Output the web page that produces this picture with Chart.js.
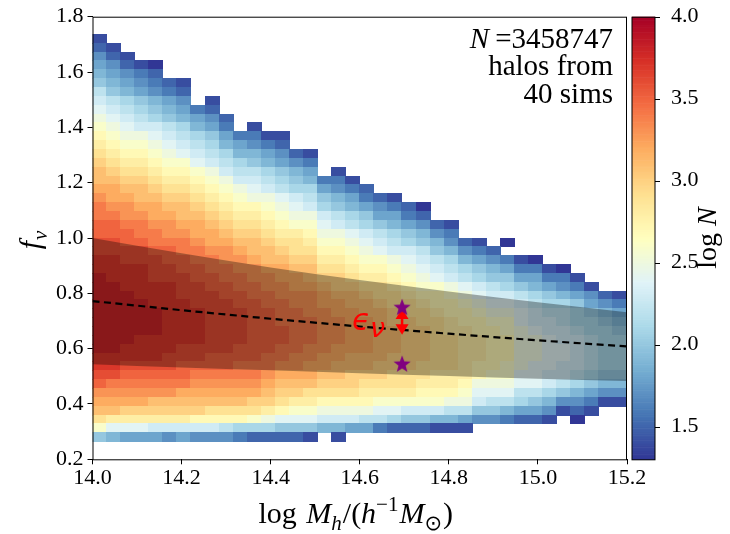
<!DOCTYPE html>
<html lang="en">
<head>
<meta charset="UTF-8">
<title>f_nu vs halo mass</title>
<script src="https://cdn.jsdelivr.net/npm/chart.js"></script>
<style>
  html, body { margin: 0; padding: 0; background: #fff; }
  #wrap { width: 730px; height: 534px; }
</style>
</head>
<body>
<div id="wrap"><canvas id="chart"></canvas></div>
<script>
// log N of halos per (mass, f_nu) cell.
// one string per f_nu row (top row first), one char per mass column,
// '.' = empty, 'a' = 1.3, 'b' = 1.4, ... 'z' = 3.8
const countRows = [
  'b',
  'cb',
  'ecb',
  'fecba',
  'gfedc',
  'hgfedcb',
  'jhgfedc',
  'kjihgfe.b',
  'lkjihgfdc',
  'mlkjihgfec',
  'nmlkkjigfd.b',
  'onmmlkjihfddbb',
  'ponnmlkjigfedc',
  'qpoonmlkjiggfecb',
  'rqpponnlkjihgfed',
  'srqqpoonmkjjihgf.b',
  'ssrrqpponmkkjihgddb',
  'ttssrqqponmlkjiifedc',
  'uttssrrqponmmlkjhgfdcb',
  'vuuttssrqpoonmlkihgfedca',
  'vvuuttssrqpponmmkjihffdc',
  'wwvvuuttsrqqponnlkjihgfecb',
  'wwwvvuuttsrrqppommlkjihged',
  'xxwwvvvuttssrqqpnnmlkjihgecb.a',
  'xxxxwwvvuutssrqqoonmlkkjhgedc.',
  'yyxxxwwvvuutssrrpponnmlkjigfedba',
  'yyyyxxwwvvuuttssqqpoonmlkjihgfddba',
  'zyyyxxxwwvvuuttsrrqpponmlkjihhffddb',
  'zzyyyyxxwwvvuuttsrrqqponnmlkjihgfedb',
  'zzzyyyxxxwwvvuuutssrqqpoonmlkkjihgfecb',
  'zzzzyyyxxxwwvvuuttssrqqpoonmllkjiihfed',
  'zzzzzyyyxxxwwvvuuttssrqqpoonmmlkjjihgf',
  'zzzzzyyyxxxwwvvvuuttsrrqqpoonnlkkjiihg',
  'zzzzzyyyxxxwwwvvuuttssrrqppoonmlkkjiih',
  'zzzyyyyyxxxwwwvvuuttssrrqqppoommlkkjii',
  'zzyyyyxxxxwwwvvuutttssrrqqppoommllkjii',
  'yyyyyxxxwwwwvvuuttsssrrrqqppoommllkjii',
  'yyxxxxwwwwvvvuuttsssrrrqqqpoonmllkkjii',
  'xxwwwwwvvvvvutttssrrrqqqppponnllkkjihh',
  'wvvvvvvuuuuutsssrrrqqqqpppommmllkjihgg',
  'uuuuuuttttttsrrqqqqppppooonllljjihgfee',
  'ttttsssssssrrqppoooonnnnnmmkjjihgeedbb',
  'ssrrrrrrqqqqponnmmmmllkkkjjhhgffebcb',
  'qppppppoooonmlllkkkjjihhggfeedccb.a',
  'nlllkkkkkjiiihhhggffdcccbbb',
  'hgfffefeeedccccb.b'
];
const levels = 'abcdefghijklmnopqrstuvwxyzAB';
const nMassBins = 38;
const massEdge0 = 14.0, massStep = 1.2 / 38;
const fvEdge0 = 0.264, fvStep = 0.032;

// mean f_nu and the +-1 sigma band
const bandMass  = [14.0, 14.2, 14.4, 14.6, 14.8, 15.0, 15.2];
const bandUpper = [1.0, 0.945, 0.893, 0.848, 0.807, 0.768, 0.732];
const bandLower = [0.544, 0.532, 0.522, 0.511, 0.501, 0.491, 0.483];
const meanFv    = [0.772, 0.739, 0.708, 0.680, 0.654, 0.630, 0.608];

const starMass = [14.695, 14.695];
const starFv = [0.75, 0.545];
const arrowMass = 14.695;
const arrowFv = [0.65, 0.745];

const xTicks = [14.0, 14.2, 14.4, 14.6, 14.8, 15.0, 15.2];
const yTicks = [0.2, 0.4, 0.6, 0.8, 1.0, 1.2, 1.4, 1.6, 1.8];
const cbTicks = [1.5, 2.0, 2.5, 3.0, 3.5, 4.0];
const cbMin = 1.3, cbMax = 4.0;

const serif = "'Liberation Serif', 'Times New Roman', serif";
const rdylbu = ['#313695', '#4575b4', '#74add1', '#abd9e9', '#e0f3f8', '#ffffbf',
                '#fee090', '#fdae61', '#f46d43', '#d73027', '#a50026'];

function hexRgb(h) {
  return [1, 3, 5].map(i => parseInt(h.slice(i, i + 2), 16));
}
function cmap(v) {
  let t = (v - cbMin) / (cbMax - cbMin);
  t = Math.max(0, Math.min(1, t)) * 10;
  const i = Math.min(9, Math.floor(t)), f = t - i;
  const a = hexRgb(rdylbu[i]), b = hexRgb(rdylbu[i + 1]);
  const c = a.map((x, k) => Math.round(x + (b[k] - x) * f));
  return `rgb(${c[0]},${c[1]},${c[2]})`;
}

function starImage(r, color) {
  const c = document.createElement('canvas');
  c.width = c.height = 2 * r + 2;
  const g = c.getContext('2d');
  g.fillStyle = color;
  g.beginPath();
  for (let i = 0; i < 10; i++) {
    const rad = i % 2 ? r * 0.42 : r;
    const a = -Math.PI / 2 + i * Math.PI / 5;
    g.lineTo(r + 1 + rad * Math.cos(a), r + 1.6 + rad * Math.sin(a));
  }
  g.closePath();
  g.fill();
  return c;
}

// draws pieces of math text (italic / sub / sup) along a baseline
function mathText(ctx, parts, x, y, size, align) {
  const fontOf = p => (p.it ? 'italic ' : '') + ((p.sub || p.sup) ? Math.round(size * 0.7) : size) + 'px ' + (p.fam || serif);
  let w = 0;
  parts.forEach(p => { ctx.font = fontOf(p); w += ctx.measureText(p.t).width + (p.gap || 0); });
  let cx = align === 'center' ? x - w / 2 : align === 'right' ? x - w : x;
  parts.forEach(p => {
    ctx.font = fontOf(p);
    const dy = p.sub ? size * 0.22 : p.sup ? -size * 0.4 : 0;
    ctx.fillText(p.t, cx, y + dy);
    cx += ctx.measureText(p.t).width + (p.gap || 0);
  });
}

const heatmap = {
  id: 'heatmap',
  beforeDatasetsDraw(chart) {
    const { ctx, chartArea: ca, scales: { x, y } } = chart;
    ctx.save();
    ctx.beginPath();
    ctx.rect(ca.left, ca.top, ca.width, ca.height);
    ctx.clip();
    const nRows = countRows.length;
    countRows.forEach((rowStr, i) => {
      const row = rowStr.padEnd(nMassBins, '.');
      const r = nRows - 1 - i;
      const y0 = y.getPixelForValue(fvEdge0 + r * fvStep);
      const y1 = y.getPixelForValue(fvEdge0 + (r + 1) * fvStep);
      for (let c = 0; c < nMassBins; c++) {
        const k = levels.indexOf(row[c]);
        if (k < 0) continue;
        const x0 = x.getPixelForValue(massEdge0 + c * massStep);
        const x1 = x.getPixelForValue(massEdge0 + (c + 1) * massStep);
        ctx.fillStyle = cmap(cbMin + 0.1 * k);
        ctx.fillRect(Math.floor(x0), Math.floor(y1), Math.ceil(x1) - Math.floor(x0), Math.ceil(y0) - Math.floor(y1));
      }
    });
    ctx.restore();
  }
};

const arrow = {
  id: 'arrow',
  beforeDatasetDraw(chart, args) {
    if (args.index !== 0) return;
    const { ctx, scales: { x, y } } = chart;
    const xa = x.getPixelForValue(arrowMass);
    const yBot = y.getPixelForValue(arrowFv[0]);
    const yTop = y.getPixelForValue(arrowFv[1]);
    const hl = 10.5, hw = 6.5;
    ctx.save();
    ctx.fillStyle = '#ff0000';
    ctx.strokeStyle = '#ff0000';
    ctx.lineWidth = 2.5;
    ctx.beginPath();
    ctx.moveTo(xa, yTop + hl - 1);
    ctx.lineTo(xa, yBot - hl + 1);
    ctx.stroke();
    ctx.beginPath();
    ctx.moveTo(xa, yTop); ctx.lineTo(xa - hw, yTop + hl); ctx.lineTo(xa + hw, yTop + hl);
    ctx.closePath(); ctx.fill();
    ctx.beginPath();
    ctx.moveTo(xa, yBot); ctx.lineTo(xa - hw, yBot - hl); ctx.lineTo(xa + hw, yBot - hl);
    ctx.closePath(); ctx.fill();
    // epsilon_nu label
    ctx.textBaseline = 'alphabetic';
    ctx.textAlign = 'left';
    ctx.font = 'italic 30px "DejaVu Sans"';
    ctx.fillText('\u03f5', xa - 50, yTop + 21);
    ctx.font = 'italic 27px "DejaVu Sans"';
    ctx.fillText('\u03bd', xa - 32, yTop + 28);
    ctx.restore();
  }
};

const decor = {
  id: 'decor',
  afterDraw(chart) {
    const { ctx, chartArea: ca, scales: { cb } } = chart;
    ctx.save();
    // frame
    ctx.strokeStyle = '#000';
    ctx.lineWidth = 1;
    ctx.strokeRect(ca.left + 0.5, ca.top + 0.5, ca.width - 1, ca.height);

    // colorbar
    const cx0 = ca.right + 5, cx1 = ca.right + 28;
    const steps = 256;
    for (let i = 0; i < steps; i++) {
      const v0 = cbMin + (cbMax - cbMin) * i / steps;
      const v1 = cbMin + (cbMax - cbMin) * (i + 1) / steps;
      const ya = cb.getPixelForValue(v0), yb = cb.getPixelForValue(v1);
      ctx.fillStyle = cmap((v0 + v1) / 2);
      ctx.fillRect(cx0, yb, cx1 - cx0, ya - yb + 0.6);
    }
    ctx.strokeRect(cx0, ca.top + 0.5, cx1 - cx0, ca.height);
    ctx.beginPath();
    cbTicks.forEach(v => {
      const yv = Math.round(cb.getPixelForValue(v)) + 0.5;
      ctx.moveTo(cx1, yv);
      ctx.lineTo(cx1 + 5, yv);
    });
    ctx.stroke();

    ctx.fillStyle = '#000';
    ctx.textBaseline = 'alphabetic';

    // annotation
    ctx.textAlign = 'left';
    const tx = ca.right - 14;
    ctx.font = '29px ' + serif;
    const wNum = ctx.measureText('=3458747').width;
    ctx.fillText('=3458747', tx - wNum, ca.top + 31);
    ctx.font = 'italic 29px ' + serif;
    const wN = ctx.measureText('N').width;
    ctx.fillText('N', tx - wNum - wN - 6, ca.top + 31);
    ctx.textAlign = 'right';
    ctx.font = '29px ' + serif;
    ctx.fillText('halos from', tx, ca.top + 58.5);
    ctx.fillText('40 sims', tx, ca.top + 86);

    // axis titles
    ctx.textAlign = 'left';
    mathText(ctx, [
      { t: 'log' }, { t: ' ', gap: 2 }, { t: 'M', it: true }, { t: 'h', it: true, sub: true, gap: 1 },
      { t: '/(' }, { t: 'h', it: true }, { t: '\u22121', sup: true, gap: 1 }, { t: 'M', it: true },
      { t: '\u2299', sub: true, fam: '"DejaVu Sans"', gap: 1 }, { t: ')' }
    ], (ca.left + ca.right) / 2 - 4, 523, 30, 'center');

    ctx.save();
    ctx.translate(40, (ca.top + ca.bottom) / 2 + 2);
    ctx.rotate(-Math.PI / 2);
    mathText(ctx, [{ t: 'f', it: true, gap: 1 }, { t: '\u03bd', it: true, sub: true }], 0, 0, 30, 'center');
    ctx.restore();

    ctx.save();
    ctx.translate(716, (ca.top + ca.bottom) / 2);
    ctx.rotate(-Math.PI / 2);
    mathText(ctx, [{ t: 'log', gap: 7 }, { t: 'N', it: true }], 0, 0, 28, 'center');
    ctx.restore();

    ctx.restore();
  }
};

const tickFont = { family: serif, size: 22 };

new Chart(document.getElementById('chart'), {
  type: 'line',
  data: {
    datasets: [
      {
        type: 'scatter',
        data: starMass.map((m, i) => ({ x: m, y: starFv[i] })),
        pointStyle: starImage(9, '#800080'),
        pointRadius: 9,
        order: 0
      },
      {
        data: bandMass.map((m, i) => ({ x: m, y: meanFv[i] })),
        borderColor: '#000',
        borderWidth: 2.2,
        borderDash: [7, 4.5],
        pointRadius: 0,
        fill: false,
        order: 1
      },
      {
        data: bandMass.map((m, i) => ({ x: m, y: bandUpper[i] })),
        borderWidth: 0,
        pointRadius: 0,
        cubicInterpolationMode: 'monotone',
        fill: '+1',
        backgroundColor: 'rgba(0,0,0,0.32)',
        order: 2
      },
      {
        data: bandMass.map((m, i) => ({ x: m, y: bandLower[i] })),
        borderWidth: 0,
        pointRadius: 0,
        cubicInterpolationMode: 'monotone',
        fill: false,
        order: 3
      }
    ]
  },
  options: {
    responsive: true,
    maintainAspectRatio: false,
    animation: false,
    devicePixelRatio: 1,
    layout: { padding: { top: 16.7, right: 0, left: 0, bottom: 0 } },
    plugins: { legend: { display: false }, tooltip: { enabled: false } },
    scales: {
      x: {
        type: 'linear',
        min: 14.0,
        max: 15.2,
        afterBuildTicks: s => { s.ticks = xTicks.map(v => ({ value: v })); },
        afterFit: s => { s.height = 74.7; s.paddingLeft = 0; s.paddingRight = 0; },
        ticks: { font: tickFont, color: '#000', padding: 1, maxRotation: 0, autoSkip: false,
                 callback: v => Number(v).toFixed(1) },
        grid: { drawOnChartArea: false, color: '#000', tickLength: 5 },
        border: { display: false }
      },
      y: {
        type: 'linear',
        min: 0.2,
        max: 1.8,
        afterBuildTicks: s => { s.ticks = yTicks.map(v => ({ value: v })); },
        afterFit: s => { s.width = 92.5; s.paddingTop = 0; s.paddingBottom = 0; },
        ticks: { font: tickFont, color: '#000', padding: 4, autoSkip: false,
                 callback: v => Number(v).toFixed(1) },
        grid: { drawOnChartArea: false, color: '#000', tickLength: 5 },
        border: { display: false }
      },
      cb: {
        type: 'linear',
        position: 'right',
        min: cbMin,
        max: cbMax,
        afterBuildTicks: s => { s.ticks = cbTicks.map(v => ({ value: v })); },
        afterFit: s => { s.width = 103; s.paddingTop = 0; s.paddingBottom = 0; },
        ticks: { font: tickFont, color: '#000', padding: 36, autoSkip: false,
                 callback: v => Number(v).toFixed(1) },
        grid: { display: false },
        border: { display: false }
      }
    }
  },
  plugins: [heatmap, arrow, decor]
});
</script>
</body>
</html>
